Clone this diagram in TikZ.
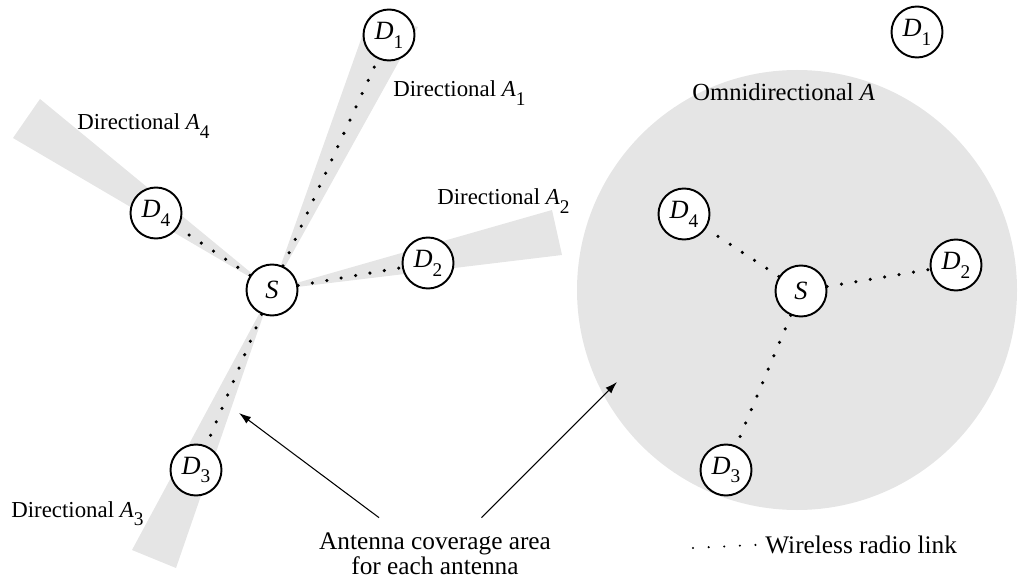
\documentclass[tikz,border=0pt]{standalone}
\usepackage{fontspec}
\setmainfont{Liberation Serif}
\usetikzlibrary{shapes, calc, arrows.meta, positioning}

\definecolor{coverage}{gray}{0.9}
\newcommand{\idx}[2]{\textit{#1}\raisebox{-5pt}{\fontsize{11}{11}\selectfont #2}}

\tikzset{
    station/.style={circle, draw, line width=1.1pt, fill=white, minimum size=1.02cm, inner sep=0pt, font=\fontsize{15}{15}\selectfont},
    link/.style={line width=2pt, line cap=round, dash pattern=on 0pt off 8.3pt},
    beam/.style={fill=coverage},
    tag/.style={anchor=base west, inner sep=0pt, font=\fontsize{13}{15}\selectfont},
    pointer/.style={-{Latex[length=2.4mm, width=1.6mm]}, line width=0.6pt}
}

\begin{document}
\begin{tikzpicture}
    \useasboundingbox (0,0) rectangle (20.36,11.6);

    % directional antennas
    \coordinate (srcL) at (5.44,5.80);
    \fill[beam] (srcL) -- (8.36,11.06) -- (7.40,11.32) -- cycle;
    \fill[beam] (srcL) -- (11.04,7.40) -- (11.24,6.50) -- cycle;
    \fill[beam] (srcL) -- (2.64,0.60)  -- (3.52,0.24)  -- cycle;
    \fill[beam] (srcL) -- (0.80,9.62)  -- (0.26,8.84)  -- cycle;

    % omnidirectional antenna
    \fill[beam] (15.94,5.80) circle (4.40);

    \path (srcL) node[station] (S) {\textit{S}};
    \path (7.78,10.90) node[station] (D1) {\idx{D}{1}};
    \path (8.56,6.34)  node[station] (D2) {\idx{D}{2}};
    \path (3.92,2.20)  node[station] (D3) {\idx{D}{3}};
    \path (3.12,7.34)  node[station] (D4) {\idx{D}{4}};

    \path (16.02,5.78) node[station] (Sr) {\textit{S}};
    \path (18.34,10.96) node[station] (D1r) {\idx{D}{1}};
    \path (19.12,6.30) node[station] (D2r) {\idx{D}{2}};
    \path (14.52,2.20) node[station] (D3r) {\idx{D}{3}};
    \path (13.68,7.32) node[station] (D4r) {\idx{D}{4}};

    \draw[link] (S) -- (D1);
    \draw[link] (S) -- (D2);
    \draw[link] (S) -- (D3);
    \draw[link] (S) -- (D4);
    \draw[link] (Sr) -- (D2r);
    \draw[link] (Sr) -- (D3r);
    \draw[link] (Sr) -- (D4r);

    \path (7.86,9.66) node[tag] {Directional \idx{A}{1}};
    \path (8.74,7.50) node[tag] {Directional \idx{A}{2}};
    \path (0.22,1.26) node[tag] {Directional \idx{A}{3}};
    \path (1.54,9.00) node[tag] {Directional \idx{A}{4}};
    \path (13.84,9.58) node[tag, font=\fontsize{14}{16}\selectfont] {Omnidirectional \textit{A}};

    \path (8.70,0.52) node[align=center, inner sep=0.3cm, font=\fontsize{14.4}{13.2}\selectfont] (cover) {Antenna coverage area\\for each antenna};
    \coordinate (tipL) at (4.78,3.34);
    \coordinate (tipR) at (12.34,3.96);
    \draw[pointer] (cover.147) -- (tipL);
    \draw[pointer] (cover.38) -- (tipR);

    % legend
    \path (15.30,0.54) node[tag, font=\fontsize{14.4}{16}\selectfont] (key) {Wireless radio link};
    \coordinate (keyL) at (13.86,0.64);
    \draw[link, line width=1.3pt, dash pattern=on 0pt off 8.9pt, shorten >=5pt] (keyL) -- (key.west);
\end{tikzpicture}
\end{document}
